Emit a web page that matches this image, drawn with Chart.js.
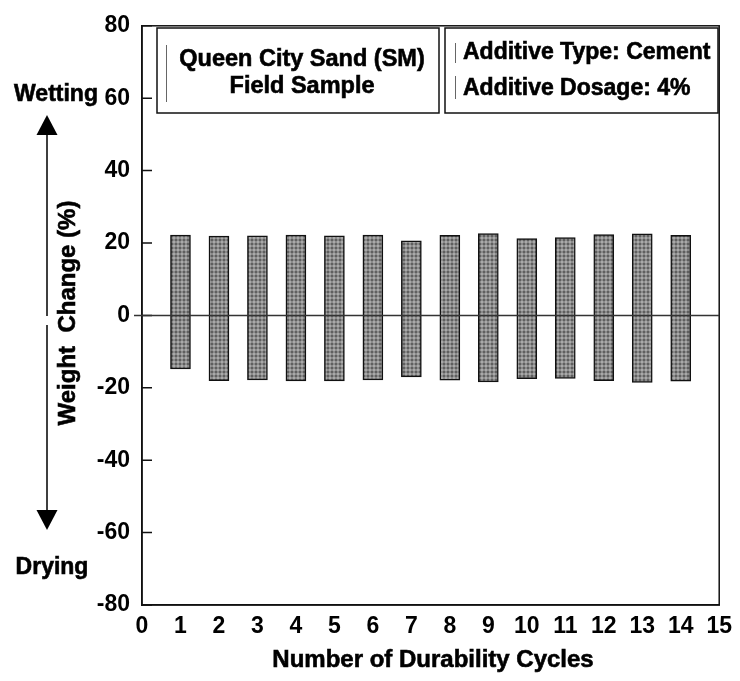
<!DOCTYPE html>
<html>
<head>
<meta charset="utf-8">
<title>Weight Change vs Durability Cycles</title>
<script src="https://cdn.jsdelivr.net/npm/chart.js@4.4.1/dist/chart.umd.min.js"></script>
<style>
  html, body { margin: 0; padding: 0; background: #fff; }
  #wrap { width: 740px; height: 681px; }
</style>
</head>
<body>
<div id="wrap"><canvas id="c" width="740" height="681"></canvas></div>
<script>
// Durability cycle numbers
const cycles = [1, 2, 3, 4, 5, 6, 7, 8, 9, 10, 11, 12, 13, 14];
// Weight gain after wetting (%)
const wettingGain = [22.2, 21.9, 22.0, 22.2, 22.0, 22.2, 20.6, 22.1, 22.6, 21.2, 21.5, 22.3, 22.5, 22.1];
// Weight loss after drying (%)
const dryingLoss = [-14.8, -18.0, -17.8, -18.1, -18.1, -17.8, -17.0, -17.9, -18.4, -17.5, -17.4, -18.0, -18.5, -18.2];
// Axis ranges and tick steps
const yTicks = [-80, -60, -40, -20, 0, 20, 40, 60, 80];
const xRange = [0, 15];

const FONT = '"Liberation Sans", Arial, Helvetica, sans-serif';

// Dotted grey fill for the bars
function makeStipple() {
  const p = document.createElement('canvas');
  p.width = 4; p.height = 4;
  const g = p.getContext('2d');
  g.fillStyle = '#8a8a8a';
  g.fillRect(0, 0, 4, 4);
  g.fillStyle = '#a9a9a9';
  g.fillRect(1, 1, 2, 2);
  g.fillStyle = '#5f5f5f';
  g.fillRect(0, 0, 1, 1); g.fillRect(3, 0, 1, 1);
  g.fillRect(0, 3, 1, 1); g.fillRect(3, 3, 1, 1);
  return g.createPattern(p, 'repeat');
}

// Text with a slightly heavier stroke
function heavyText(ctx, text, x, y) {
  ctx.lineWidth = 0.6;
  ctx.strokeStyle = '#000';
  ctx.strokeText(text, x, y);
  ctx.fillText(text, x, y);
}

const ctx = document.getElementById('c').getContext('2d');

// Frame, inward ticks, zero line, side annotations and the two info boxes
const decorations = {
  id: 'decorations',
  afterDraw(chart) {
    const { ctx, chartArea: a, scales: { y } } = chart;
    ctx.save();
    // plot frame
    ctx.strokeStyle = '#111';
    ctx.lineWidth = 1.5;
    ctx.strokeRect(a.left, a.top, a.right - a.left, a.bottom - a.top);
    // inward tick marks on the value axis
    ctx.beginPath();
    yTicks.forEach(v => {
      const py = y.getPixelForValue(v);
      ctx.moveTo(a.left, py);
      ctx.lineTo(a.left + 10, py);
    });
    ctx.stroke();

    // zero line across the plot, over the bars
    const y0 = y.getPixelForValue(0);
    ctx.strokeStyle = '#333';
    ctx.beginPath();
    ctx.moveTo(a.left - 8, y0);
    ctx.lineTo(a.right, y0);
    ctx.stroke();

    // Wetting / Drying arrow
    const ax = 47;
    ctx.strokeStyle = '#000';
    ctx.fillStyle = '#000';
    ctx.lineWidth = 1.5;
    ctx.beginPath();
    ctx.moveTo(ax, 132); ctx.lineTo(ax, 316);
    ctx.moveTo(ax, 325); ctx.lineTo(ax, 512);
    ctx.stroke();
    ctx.beginPath();
    ctx.moveTo(ax, 115); ctx.lineTo(ax - 10.5, 135); ctx.lineTo(ax + 10.5, 135); ctx.closePath();
    ctx.fill();
    ctx.beginPath();
    ctx.moveTo(ax, 530); ctx.lineTo(ax - 10.5, 510); ctx.lineTo(ax + 10.5, 510); ctx.closePath();
    ctx.fill();

    ctx.font = 'bold 23px ' + FONT;
    ctx.textAlign = 'center';
    ctx.textBaseline = 'middle';
    heavyText(ctx, 'Wetting', 56, 95);
    heavyText(ctx, 'Drying', 52, 568);

    // value axis title
    ctx.save();
    ctx.translate(68, 313);
    ctx.rotate(-Math.PI / 2);
    ctx.font = 'bold 24px ' + FONT;
    heavyText(ctx, 'Weight  Change (%)', 0, 0);
    ctx.restore();

    // category axis title
    ctx.font = 'bold 24px ' + FONT;
    heavyText(ctx, 'Number of Durability Cycles', 433, 660);

    // info boxes
    ctx.fillStyle = '#fff';
    ctx.strokeStyle = '#111';
    ctx.lineWidth = 1.5;
    ctx.fillRect(157, 28, 282, 85);
    ctx.strokeRect(157, 28, 282, 85);
    ctx.fillRect(445, 28, 273, 85);
    ctx.strokeRect(445, 28, 273, 85);

    ctx.strokeStyle = '#666';
    ctx.lineWidth = 1;
    ctx.beginPath();
    ctx.moveTo(166.5, 45); ctx.lineTo(166.5, 102);
    ctx.moveTo(455.5, 43); ctx.lineTo(455.5, 63);
    ctx.moveTo(455.5, 76); ctx.lineTo(455.5, 99);
    ctx.stroke();

    ctx.fillStyle = '#000';
    ctx.textAlign = 'center';
    ctx.font = 'bold 23.5px ' + FONT;
    heavyText(ctx, 'Queen City Sand (SM)', 302, 60);
    heavyText(ctx, 'Field Sample', 302, 87);
    ctx.textAlign = 'left';
    ctx.font = 'bold 23px ' + FONT;
    heavyText(ctx, 'Additive Type: Cement', 463, 53);
    heavyText(ctx, 'Additive Dosage: 4%', 463, 89);
    ctx.restore();
  }
};

new Chart(ctx, {
  type: 'bar',
  data: {
    datasets: [{
      data: cycles.map((c, i) => ({ x: c, y: [dryingLoss[i], wettingGain[i]] })),
      backgroundColor: makeStipple(),
      borderColor: '#111',
      borderWidth: 1.5,
      borderSkipped: false,
      barThickness: 20
    }]
  },
  options: {
    responsive: false,
    animation: false,
    devicePixelRatio: 1,
    layout: { padding: { left: 0, right: 17, top: 21, bottom: 0 } },
    plugins: { legend: { display: false }, tooltip: { enabled: false } },
    scales: {
      x: {
        type: 'linear',
        min: xRange[0],
        max: xRange[1],
        offset: false,
        grid: { display: false, drawTicks: false },
        border: { display: true, color: '#111', width: 1.5 },
        ticks: {
          stepSize: 1,
          autoSkip: false,
          maxRotation: 0,
          padding: 8,
          color: '#000',
          font: { family: FONT, size: 23, weight: 'bold' }
        },
        afterFit(s) { s.height = 76; }
      },
      y: {
        min: yTicks[0],
        max: yTicks[yTicks.length - 1],
        grid: { display: false, drawTicks: false },
        border: { display: true, color: '#111', width: 1.5 },
        ticks: {
          stepSize: 20,
          padding: 12,
          color: '#000',
          font: { family: FONT, size: 23, weight: 'bold' }
        },
        afterFit(s) { s.width = 142; }
      }
    }
  },
  plugins: [decorations]
});
</script>
</body>
</html>
